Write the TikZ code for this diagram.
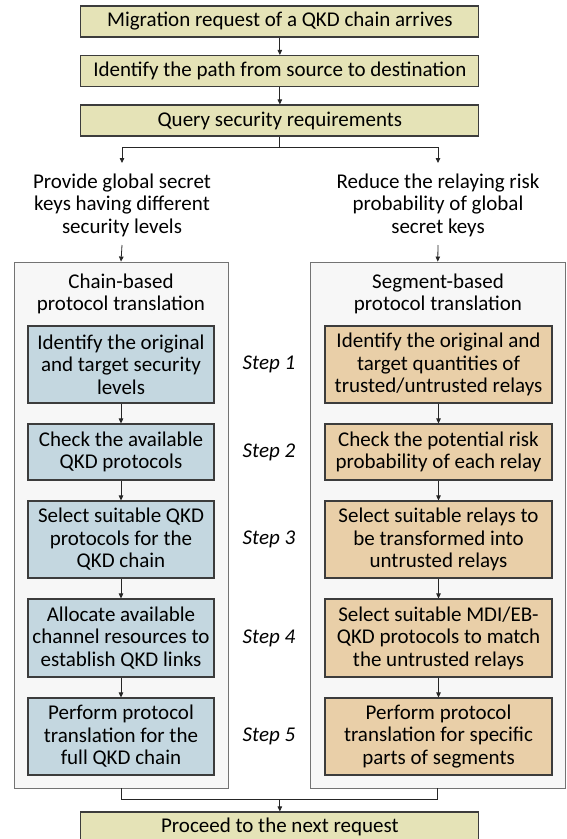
\documentclass[tikz,border=0pt]{standalone}
\usepackage{fontspec}
\setmainfont{Carlito}
\usetikzlibrary{arrows.meta}
\definecolor{khaki}{RGB}{229,227,183}
\definecolor{bluebox}{RGB}{196,215,224}
\definecolor{tanbox}{RGB}{233,207,168}
\definecolor{outerfill}{RGB}{247,247,247}
\definecolor{outerline}{RGB}{115,115,115}
\definecolor{boxline}{RGB}{60,60,60}
\begin{document}
\begin{tikzpicture}[x=1pt,y=-1pt,
  font=\fontsize{21}{22.5}\selectfont,
  topbox/.style={draw=boxline, fill=khaki, line width=1.1pt, minimum width=398pt, minimum height=31pt, inner sep=0pt},
  outerbox/.style={draw=outerline, fill=outerfill, line width=0.9pt, inner sep=0pt},
  bluestep/.style={draw=boxline, fill=bluebox, line width=1.1pt, minimum width=186pt, inner sep=0pt, align=center},
  tanstep/.style={draw=boxline, fill=tanbox, line width=1.1pt, minimum width=227pt, inner sep=0pt, align=center},
  plain/.style={inner sep=0pt, align=center},
  steplabel/.style={inner sep=0pt, font=\fontsize{21}{22.5}\selectfont\itshape},
  conn/.style={line width=0.8pt, draw=black!85},
  arr/.style={conn, -{Triangle[length=5pt,width=4.5pt]}}
]
\useasboundingbox (0,0) rectangle (567,839);

% top boxes
\node[topbox] (t1) at (279.85,21.5) {Migration request of a QKD chain arrives};
\node[topbox] (t2) at (279.85,71) {Identify the path from source to destination};
\node[topbox] (t3) at (279.85,120.5) {Query security requirements};
\draw[arr] (t1.south) -- (t2.north);
\draw[arr] (t2.south) -- (t3.north);

% split
\coordinate (sp) at (279.85,147);
\coordinate (la) at (122,163);
\coordinate (ra) at (438,163);
\draw[conn] (t3.south) -- (sp);
\draw[arr] (sp) -| (la);
\draw[arr] (sp) -| (ra);

\node[plain] (lt) at (122,205) {Provide global secret\\keys having different\\security levels};
\node[plain] (rt) at (438,205) {Reduce the relaying risk\\probability of global\\secret keys};
\coordinate (lb) at (122,245);
\coordinate (rb) at (438,245);

% outer boxes
\node[outerbox, minimum width=214pt, minimum height=526pt] (lout) at (121,525) {};
\node[outerbox, minimum width=255.5pt, minimum height=526pt] (rout) at (437.75,525) {};
\draw[arr] (lb) -- (lout.north);
\draw[arr] (rb) -- (rout.north);

\node[plain] (ltitle) at (121,294) {Chain-based\\protocol translation};
\node[plain] (rtitle) at (438,294) {Segment-based\\protocol translation};

% left steps
\node[bluestep, minimum height=77pt] (l1) at (121,364.5) {Identify the original\\and target security\\levels};
\node[bluestep, minimum height=56pt] (l2) at (121,452) {Check the available\\QKD protocols};
\node[bluestep, minimum height=77pt] (l3) at (121,539.5) {Select suitable QKD\\protocols for the\\QKD chain};
\node[bluestep, minimum height=78pt] (l4) at (121,638) {Allocate available\\channel resources to\\establish QKD links};
\node[bluestep, minimum height=77pt] (l5) at (121,736.5) {Perform protocol\\translation for the\\full QKD chain};

% right steps
\node[tanstep, minimum height=77pt] (r1) at (438.5,364.5) {Identify the original and\\target quantities of\\trusted/untrusted relays};
\node[tanstep, minimum height=56pt] (r2) at (438.5,452) {Check the potential risk\\probability of each relay};
\node[tanstep, minimum height=77pt] (r3) at (438.5,539.5) {Select suitable relays to\\be transformed into\\untrusted relays};
\node[tanstep, minimum height=78pt] (r4) at (438.5,638) {Select suitable MDI/EB-\\QKD protocols to match\\the untrusted relays};
\node[tanstep, minimum height=77pt] (r5) at (438.5,736.5) {Perform protocol\\translation for specific\\parts of segments};

\foreach \a/\b in {l1/l2,l2/l3,l3/l4,l4/l5,r1/r2,r2/r3,r3/r4,r4/r5}
  \draw[arr] (\a.south) -- (\b.north);

% step labels
\node[steplabel] (s1) at (269,364.5) {Step 1};
\node[steplabel] (s2) at (269,452) {Step 2};
\node[steplabel] (s3) at (269,539.5) {Step 3};
\node[steplabel] (s4) at (269,638) {Step 4};
\node[steplabel] (s5) at (269,736.5) {Step 5};

% merge
\node[topbox, minimum height=30pt] (nx) at (279.85,827) {Proceed to the next request};
\coordinate (mj) at (279.85,799);
\draw[conn] (lout.south) |- (mj) -| (rout.south);
\draw[arr] (mj) -- (nx.north);
\end{tikzpicture}
\end{document}
